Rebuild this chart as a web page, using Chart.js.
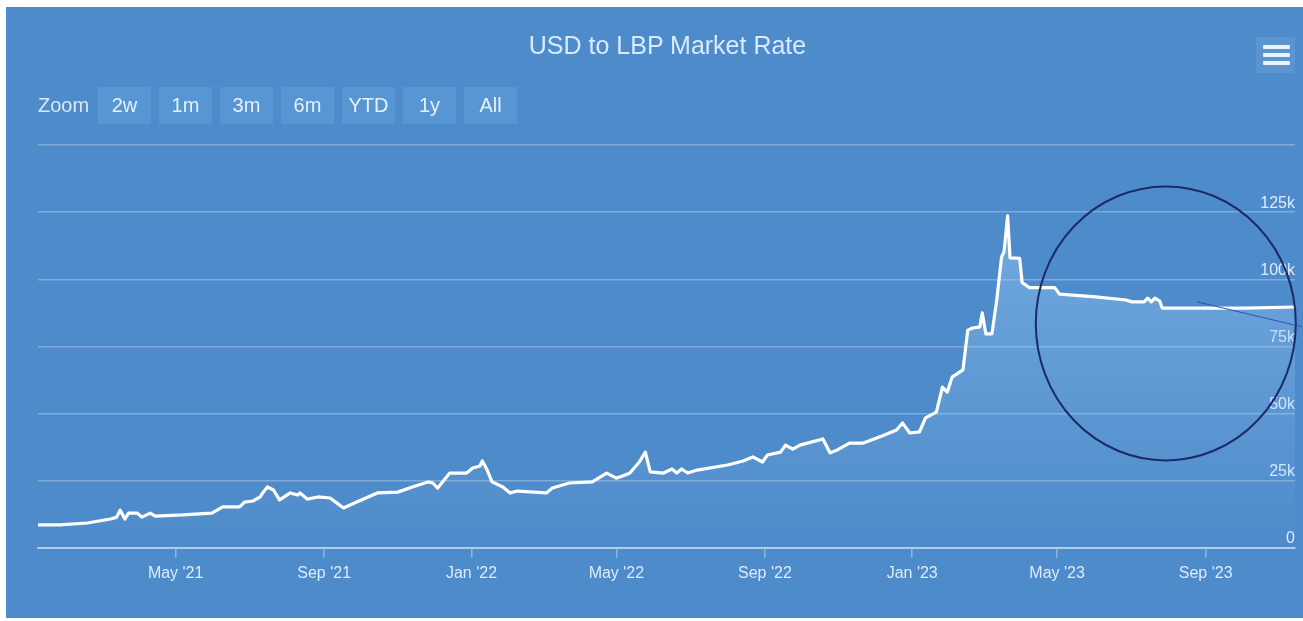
<!DOCTYPE html>
<html><head><meta charset="utf-8">
<script src="https://cdn.jsdelivr.net/npm/chart.js@4.4.0/dist/chart.umd.min.js"></script>
<style>
html,body{margin:0;padding:0;background:#fff;width:1303px;height:621px;overflow:hidden;font-family:"Liberation Sans",Arial,sans-serif;}
#panel{position:absolute;left:6px;top:7px;width:1297px;height:611px;background:#4e8bca;}
#c{position:absolute;left:0;top:0;}
#title{position:absolute;left:13px;width:1297px;top:23px;line-height:30px;text-align:center;color:#d8ebfc;font-size:25px;}
#zoomlbl{position:absolute;left:32px;top:80px;line-height:37px;color:#d6e8fa;font-size:20px;}
.btn{position:absolute;top:80px;height:37px;width:53px;background:#5896d3;color:#e4f0fc;font-size:20px;line-height:37px;text-align:center;}
#menu{position:absolute;left:1250px;top:30px;width:39px;height:36px;background:rgba(255,255,255,0.08);}
#menu div{position:absolute;left:7px;width:27px;height:4px;background:#e8f3ff;border-radius:1px;}
</style></head>
<body>
<div id="panel">
<canvas id="c" width="1297" height="611"></canvas>
<div id="title">USD to LBP Market Rate</div>
<div id="zoomlbl">Zoom</div>
<div id="btns"></div>
<div id="menu"><div style="top:8px"></div><div style="top:16px"></div><div style="top:24px"></div></div>
</div>
<script>
const dates = ['2021-01-07','2021-01-25','2021-02-17','2021-03-08','2021-03-13','2021-03-16','2021-03-20','2021-03-23','2021-03-30','2021-04-03',
'2021-04-10','2021-04-14','2021-05-07','2021-05-31','2021-06-09','2021-06-23','2021-06-27','2021-07-04','2021-07-10','2021-07-12',
'2021-07-16','2021-07-21','2021-07-26','2021-08-04','2021-08-10','2021-08-12','2021-08-18','2021-08-27','2021-09-06','2021-09-08',
'2021-09-17','2021-09-28','2021-10-15','2021-11-01','2021-11-13','2021-11-26','2021-11-30','2021-12-04','2021-12-10','2021-12-14',
'2021-12-28','2022-01-02','2022-01-08','2022-01-10','2022-01-14','2022-01-18','2022-01-27','2022-02-02','2022-02-08','2022-03-04',
'2022-03-09','2022-03-23','2022-04-11','2022-04-23','2022-05-01','2022-05-12','2022-05-20','2022-05-25','2022-05-29','2022-06-09',
'2022-06-16','2022-06-20','2022-06-24','2022-06-29','2022-07-07','2022-08-01','2022-08-14','2022-08-22','2022-08-30','2022-09-03',
'2022-09-14','2022-09-18','2022-09-24','2022-09-30','2022-10-19','2022-10-25','2022-10-31','2022-11-10','2022-11-21','2022-12-07',
'2022-12-19','2022-12-24','2022-12-30','2023-01-07','2023-01-12','2023-01-21','2023-01-26','2023-01-30','2023-02-03','2023-02-12',
'2023-02-16','2023-02-20','2023-02-26','2023-02-28','2023-03-03','2023-03-08','2023-03-12','2023-03-16','2023-03-18','2023-03-21',
'2023-03-23','2023-03-31','2023-04-02','2023-04-08','2023-04-29','2023-05-03','2023-06-02','2023-06-27','2023-07-02','2023-07-12',
'2023-07-15','2023-07-18','2023-07-21','2023-07-25','2023-07-27','2023-10-04','2023-11-14'];
const rates = [8600,8600,9300,10800,11400,14100,10800,13000,13000,11500,
13000,11900,12300,13000,15300,15300,17100,17500,19000,20500,
22700,21600,17900,20500,19700,20500,18200,19000,18600,17900,
14900,17100,20500,20800,22700,24600,24200,22300,25700,27900,
27900,29800,30500,32400,29000,24600,22700,20500,21200,20500,
22300,24200,24600,27900,26000,27800,32000,35700,28300,27900,
29400,27900,29400,27900,29000,30900,32400,33900,32000,34600,
35700,38300,36800,38300,40600,35400,36500,39000,39000,41700,
43900,46500,42800,43200,48400,50600,59900,58000,63600,66300,
81100,81900,82300,87500,79700,79700,92300,108300,110200,123600,
108000,107800,98800,96900,96900,94500,93500,92300,91600,91600,
93000,91600,93000,91900,89300,89300,89700];
const xRange = ['2021-01-07','2023-11-14'];
const xTickDates = ['2021-05-01','2021-09-01','2022-01-01','2022-05-01','2022-09-01','2023-01-01','2023-05-01','2023-09-01'];
const xTickLabels = ["May '21","Sep '21","Jan '22","May '22","Sep '22","Jan '23","May '23","Sep '23"];
const yTickValues = [0,25000,50000,75000,100000,125000,150000];
const yTickLabels = ['0','25k','50k','75k','100k','125k',''];
const zoomButtons = ['2w','1m','3m','6m','YTD','1y','All'];
const circleNote = {date:'2023-07-30', value:83600};
const arrowNote = [['2023-08-25',91600],['2023-11-20',82300]];

const ts = d => { const [y,m,dd] = d.split('-').map(Number); return Date.UTC(y,m-1,dd); };
const xTickTs = xTickDates.map(ts);

const btns = document.getElementById('btns');
zoomButtons.forEach((b,i)=>{const e=document.createElement('div');e.className='btn';e.style.left=(92+i*61)+'px';e.textContent=b;btns.appendChild(e);});

const annot = {
  id:'annot',
  afterDraw(chart){
    const {ctx, scales:{x,y}} = chart;
    ctx.save();
    ctx.strokeStyle = '#1d2a68';
    ctx.lineWidth = 2;
    ctx.beginPath();
    ctx.ellipse(x.getPixelForValue(ts(circleNote.date)), y.getPixelForValue(circleNote.value), 130, 137, 0, 0, Math.PI*2);
    ctx.stroke();
    ctx.strokeStyle = '#2f52b3';
    ctx.lineWidth = 1;
    ctx.beginPath();
    ctx.moveTo(x.getPixelForValue(ts(arrowNote[0][0])), y.getPixelForValue(arrowNote[0][1]));
    ctx.lineTo(x.getPixelForValue(ts(arrowNote[1][0])), y.getPixelForValue(arrowNote[1][1]));
    ctx.stroke();
    ctx.restore();
  }
};

const font = {family:'"Liberation Sans", Arial, sans-serif', size:16};
new Chart(document.getElementById('c'), {
  type:'line',
  data:{datasets:[{
    data: dates.map((d,i)=>({x:ts(d), y:rates[i]})),
    borderColor:'#ffffff',
    borderWidth:3.2,
    borderJoinStyle:'round',
    pointRadius:0,
    tension:0,
    fill:'origin',
    backgroundColor:(c)=>{
      const ch=c.chart; const a=ch.chartArea; if(!a) return 'transparent';
      const top=ch.scales.y.getPixelForValue(Math.max(...rates));
      const g=ch.ctx.createLinearGradient(0,top,0,a.bottom);
      g.addColorStop(0,'rgba(150,200,245,0.5)');
      g.addColorStop(1,'rgba(150,200,245,0)');
      return g;
    }
  }]},
  options:{
    responsive:false, animation:false, devicePixelRatio:1,
    layout:{padding:{left:32,right:8,top:138,bottom:0}},
    plugins:{legend:{display:false}, tooltip:{enabled:false}, title:{display:false}},
    scales:{
      x:{type:'linear', min:ts(xRange[0]), max:ts(xRange[1]),
        afterBuildTicks:s=>{s.ticks=xTickTs.map(v=>({value:v}));},
        afterFit:s=>{s.height=70;},
        ticks:{autoSkip:false, maxRotation:0, padding:6, color:'#dcebfa', font,
          callback:(v)=>xTickLabels[xTickTs.indexOf(v)]},
        grid:{drawOnChartArea:false, drawTicks:true, tickLength:10, color:'rgba(255,255,255,0.35)', lineWidth:1.5},
        border:{display:true, color:'rgba(255,255,255,0.45)', width:2}
      },
      y:{type:'linear', position:'right', min:0, max:150000,
        afterBuildTicks:s=>{s.ticks=yTickValues.map(v=>({value:v}));},
        afterFit:s=>{s.width=0;},
        ticks:{mirror:true, padding:0, labelOffset:-9, color:'#dcebfa', font,
          callback:(v)=>yTickLabels[yTickValues.indexOf(v)]},
        grid:{drawTicks:false, color:'rgba(255,255,255,0.28)', lineWidth:1.5},
        border:{display:false}
      }
    }
  },
  plugins:[annot]
});
</script>
</body></html>
